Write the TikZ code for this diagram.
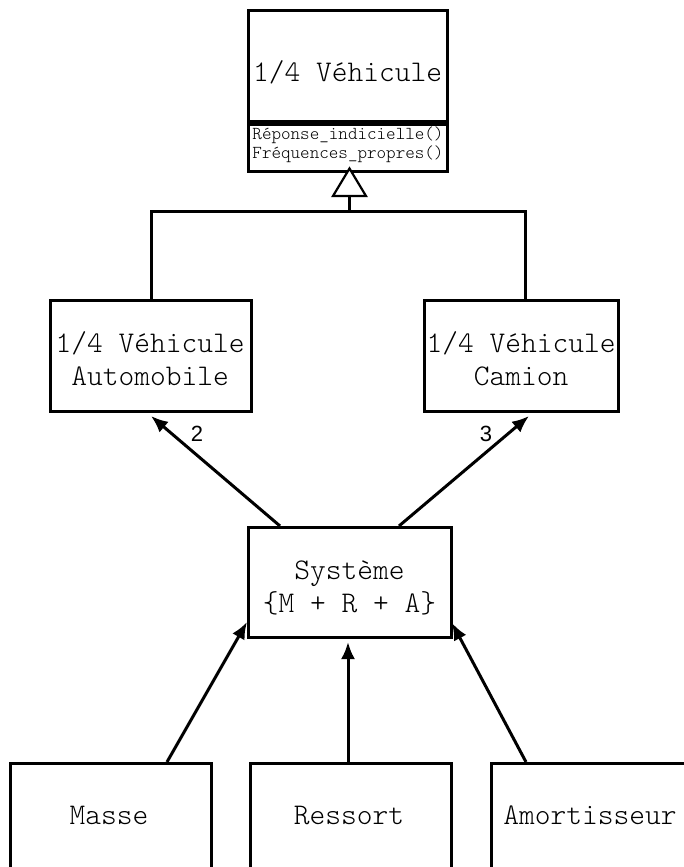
\documentclass[tikz,border=0pt]{standalone}
\usepackage{fontspec}
\newfontfamily\labelfont{Liberation Sans}
\newfontfamily\monolight{Latin Modern Mono Light}
\usetikzlibrary{arrows.meta}
\begin{document}
\begin{tikzpicture}[x=1pt,y=-1pt,
  box/.style={draw,line width=3pt,rectangle,inner sep=0pt},
  txt/.style={inner sep=0pt,align=center,font=\monolight\fontsize{30}{33}\selectfont},
  ops/.style={font=\monolight\fontsize{18.2}{18.8}\selectfont,align=left,inner sep=0pt},
  dep/.style={line width=3pt,-{Latex[length=17pt,width=14pt]}},
  num/.style={font=\labelfont\fontsize{22}{22}\selectfont,inner sep=0pt},
  inherit/.style={line width=3pt}]
\useasboundingbox (0,0) rectangle (683,867);

% base class with its operations compartment
\node[box,minimum width=199pt,minimum height=110pt] (veh) at (347.5,66) {};
\node[box,minimum width=199pt,minimum height=47pt,anchor=north] (vehops) at (veh.south) {};
\node[txt] (vehtext) at (347.5,72) {1/4 Véhicule};
\node[ops] (opstext) at (348,145) {Réponse\_indicielle()\\Fréquences\_propres()};

% derived classes
\node[box,minimum width=201pt,minimum height=111pt] (auto) at (151,356) {};
\node[box,minimum width=194pt,minimum height=111pt] (camion) at (521,356) {};
\node[txt] (autotext) at (150,359) {1/4 Véhicule\\Automobile};
\node[txt] (camiontext) at (521,359) {1/4 Véhicule\\Camion};

% assembled system
\node[box,minimum width=203pt,minimum height=110pt] (sys) at (349.5,582) {};
\node[txt] (systext) at (349.5,588) {Système\\\{M + R + A\}};

% components
\node[box,minimum width=201pt,minimum height=140pt,anchor=north] (masse) at (110.5,762) {};
\node[box,minimum width=201pt,minimum height=140pt,anchor=north] (ressort) at (350.5,762) {};
\node[box,minimum width=201pt,minimum height=140pt,anchor=north] (amort) at (591.5,762) {};
\node[txt] (tmasse) at (109,815) {Masse};
\node[txt] (tressort) at (349,815) {Ressort};
\node[txt] (tamort) at (590,815) {Amortisseur};

% inheritance: hollow triangle and joined branches
\coordinate (tip) at (349.5,168.5);
\coordinate (tribase) at (349.5,196);
\coordinate (bar) at (349.5,211);
\coordinate (barL) at (151,211);
\coordinate (barR) at (525,211);
\draw[line width=2.2pt,fill=white,line join=miter] (tip) -- (333,196) -- (366,196) -- cycle;
\draw[inherit] (tribase) -- (bar);
\draw[inherit,line join=miter] (auto.north -| barL) -- (barL) -- (barR) -- (camion.north -| barR);

% composition arrows
\coordinate (s2) at (280,526);
\coordinate (s3) at (399,526);
\coordinate (a2) at (151,416);
\coordinate (a3) at (529,416);
\draw[dep] (s2) -- (a2);
\draw[dep] (s3) -- (a3);
\node[num] (n2) at (197,434) {2};
\node[num] (n3) at (486,434) {3};

\coordinate (m0) at (167,762);
\coordinate (m1) at (247,622);
\coordinate (r0) at (348,762);
\coordinate (r1) at (348,642);
\coordinate (k0) at (526,762);
\coordinate (k1) at (452,623);
\draw[dep] (m0) -- (m1);
\draw[dep] (r0) -- (r1);
\draw[dep] (k0) -- (k1);
\end{tikzpicture}
\end{document}
